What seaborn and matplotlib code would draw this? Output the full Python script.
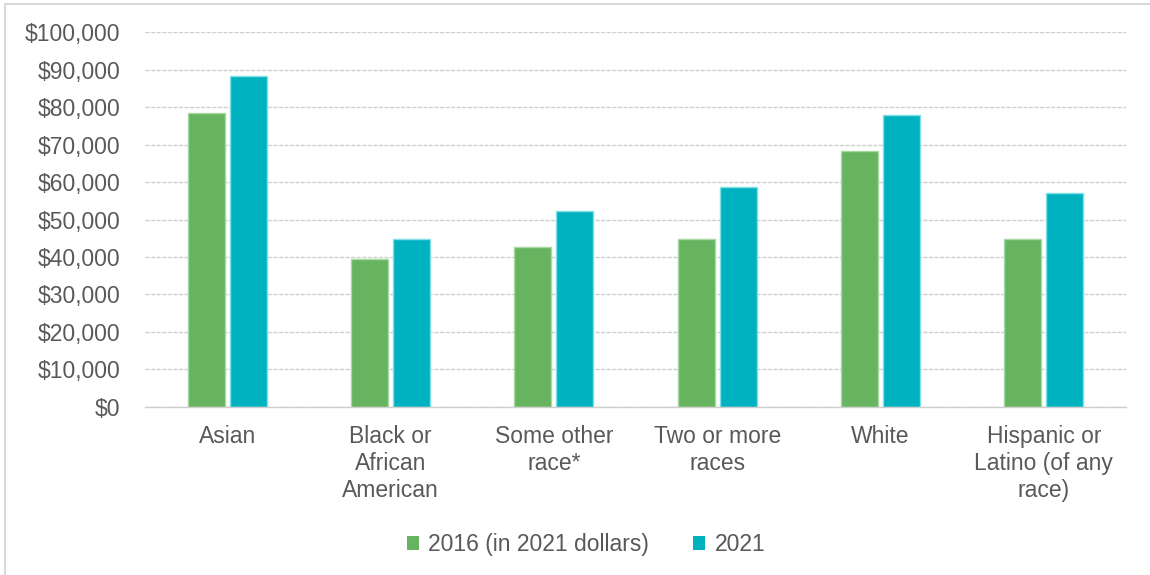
import matplotlib
matplotlib.use("Agg")
import matplotlib.pyplot as plt
from matplotlib.patches import Rectangle
from matplotlib.ticker import FuncFormatter
import seaborn as sns
import pandas as pd

# Median household income by race / ethnicity
categories = [
    "Asian",
    "Black or\nAfrican\nAmerican",
    "Some other\nrace*",
    "Two or more\nraces",
    "White",
    "Hispanic or\nLatino (of any\nrace)",
]
series_names = ["2016 (in 2021 dollars)", "2021"]
income_2016 = [78300, 39400, 42600, 44700, 68200, 44700]
income_2021 = [88400, 44700, 52200, 58600, 77900, 57000]
y_ticks = list(range(0, 100001, 10000))

colors = {"2016 (in 2021 dollars)": "#66b45f", "2021": "#00b2bf"}
edges = {"2016 (in 2021 dollars)": "#a9d9a3", "2021": "#7fe0e8"}
text_color = "#595959"

df = pd.DataFrame({
    "category": categories * 2,
    "series": [series_names[0]] * len(categories) + [series_names[1]] * len(categories),
    "income": income_2016 + income_2021,
})

sns.set_theme(style="white")
plt.rcParams["font.family"] = ["Liberation Sans", "DejaVu Sans"]

fig = plt.figure(figsize=(11.5, 5.75), dpi=100)
ax = fig.add_axes([0.1265, 0.2922, 0.8522, 0.6521])

sns.barplot(
    data=df, x="category", y="income", hue="series",
    order=categories, hue_order=series_names,
    palette=colors, saturation=1, width=0.515, gap=0.12,
    errorbar=None, legend=False, ax=ax, linewidth=1.0,
)
for container, name in zip(ax.containers, series_names):
    for bar in container:
        bar.set_edgecolor(edges[name])

ax.set_ylim(0, 100000)
ax.set_xlim(-0.5, len(categories) - 0.5)
ax.set_yticks(y_ticks)
ax.yaxis.set_major_formatter(FuncFormatter(lambda v, _: f"${v:,.0f}"))
ax.grid(axis="y", color="#cfcfcf", linewidth=1.0, linestyle=(0, (3, 1)))
ax.set_axisbelow(True)
for side in ["top", "right", "left"]:
    ax.spines[side].set_visible(False)
ax.spines["bottom"].set_color("#cfcfcf")
ax.spines["bottom"].set_linewidth(1.0)
ax.set_xlabel("")
ax.set_ylabel("")
ax.tick_params(axis="y", length=0, pad=18, labelsize=16.5, labelcolor=text_color)
ax.tick_params(axis="x", length=0, pad=13, labelsize=16.5, labelcolor=text_color)
for lbl in ax.get_xticklabels():
    lbl.set_linespacing(1.21)
    lbl.set_horizontalalignment("center")

# Legend below the plot
handles = [Rectangle((0, 0), 1, 1, facecolor=colors[n], edgecolor="none") for n in series_names]
fig.legend(
    handles, series_names, loc="center", bbox_to_anchor=(0.5096, 0.053),
    ncol=2, frameon=False, fontsize=16.5, labelcolor=text_color,
    handlelength=0.55, handleheight=0.55, handletextpad=0.4, columnspacing=1.9,
)

# Chart frame
fig.patches.append(Rectangle(
    (5 / 1150, -0.05), 1.1, 1.05 - 4 / 575, transform=fig.transFigure,
    fill=False, edgecolor="#d9d9d9", linewidth=1.5,
))

fig.savefig("out.png", dpi=100, facecolor="white")
